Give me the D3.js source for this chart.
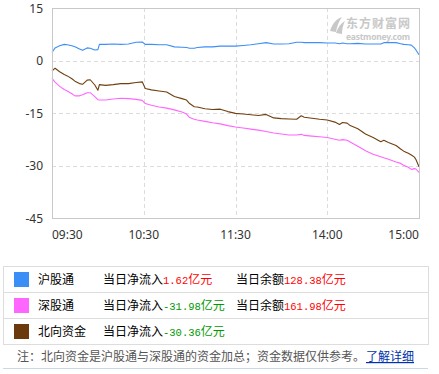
<!DOCTYPE html>
<html><head><meta charset="utf-8">
<script src="https://cdn.jsdelivr.net/npm/d3@7"></script>
<style>
html,body{margin:0;padding:0;background:#fff;}
svg{display:block;}
</style></head>
<body>
<svg id="c" width="439" height="374"></svg>
<script>
// trading minutes since 09:30 (lunch break removed)
const minutes = [0,2,5,8,10,13,15,18,20,23,25,28,30,31,35,40,45,50,55,59,61,65,70,75,80,85,88,90,93,95,100,105,110,115,120,125,130,135,140,145,150,155,160,163,165,170,175,180,185,188,190,193,195,200,205,210,215,217,220,225,228,230,233,235,237,238,240];
const hgt = [2.3,3.6,4.2,4.6,4.5,4.2,3.9,3.3,2.9,3.6,3.5,3.0,3.1,4.6,4.6,4.7,4.6,4.7,5.2,5.3,4.6,4.6,4.5,4.5,3.9,3.8,3.7,3.5,3.5,3.7,3.9,3.9,4.1,4.1,4.1,4.3,4.5,4.8,5.1,4.7,4.7,4.8,5.2,5.2,5.1,5.1,5.1,5.0,5.0,4.8,5.0,4.8,4.8,4.9,4.7,4.7,4.7,5.1,5.1,5.1,4.8,4.6,4.5,4.4,3.6,3.0,1.62];
const sgt = [-5.1,-6.2,-7.4,-8.3,-8.7,-9.5,-10.1,-10.1,-9.8,-9.2,-9.2,-10.3,-11.2,-11.3,-11.3,-11.0,-10.8,-10.9,-11.1,-11.4,-12.3,-12.8,-13.3,-13.6,-14.1,-14.7,-15.3,-16.3,-16.8,-17.0,-17.4,-17.8,-18.1,-18.6,-19.0,-19.3,-19.6,-19.9,-20.3,-20.7,-21.0,-21.3,-21.3,-21.1,-21.4,-21.6,-21.8,-22.0,-22.5,-22.8,-22.6,-22.8,-23.3,-24.5,-25.8,-26.8,-27.5,-27.8,-28.2,-29.0,-29.4,-29.9,-30.5,-31.1,-30.9,-31.0,-31.98];
const north = [-3.0,-2.2,-3.2,-4.0,-4.4,-5.2,-5.9,-6.6,-6.8,-5.6,-5.5,-7.0,-8.5,-6.9,-7.1,-6.9,-6.6,-6.6,-6.3,-6.1,-8.0,-8.4,-8.7,-9.0,-10.3,-10.9,-11.3,-12.3,-13.2,-13.3,-13.8,-14.0,-13.9,-14.6,-15.1,-15.3,-15.5,-15.7,-15.4,-16.4,-16.6,-16.7,-16.8,-15.8,-16.2,-16.5,-16.8,-17.0,-17.6,-18.3,-17.7,-17.9,-18.6,-19.5,-21.0,-22.0,-23.2,-22.8,-23.4,-24.3,-25.3,-25.9,-26.5,-27.0,-27.6,-28.3,-30.36];
const xTickMinutes = [0,60,120,180,240];
const xTickLabels = ["09:30","10:30","11:30","14:00","15:00"];
const yTicks = [15,0,-15,-30,-45];
const seriesNames = ["沪股通","深股通","北向资金"];
const seriesColors = ["#3a8ef6","#ff66ff","#6b3a0c"];
const lineColors = ["#3d8ff7","#ff66ff","#70400f"];
const netFlow = ["1.62亿元","-31.98亿元","-30.36亿元"];
const balance = ["128.38亿元","161.98亿元",null];
const note = "注：北向资金是沪股通与深股通的资金加总；资金数据仅供参考。";
const linkText = "了解详细";

const svg = d3.select("#c");
const L=52, R=419, T=8, B=218;
const x = d3.scaleLinear().domain([0,240]).range([L,R]);
const y = d3.scaleLinear().domain([-45,15]).range([B,T]);
const font = "'Noto Sans','Open Sans',sans-serif";
const cjk = "'Noto Sans CJK SC','Noto Sans',sans-serif";

// grid
const g = svg.append("g");
g.selectAll("line.hg").data([0,-15,-30]).enter().append("line")
  .attr("x1",L).attr("x2",R).attr("y1",d=>Math.round(y(d))+0.5).attr("y2",d=>Math.round(y(d))+0.5)
  .attr("stroke","#dcdcdc").attr("stroke-dasharray","4,3");
g.selectAll("line.vg").data([60,120,180]).enter().append("line")
  .attr("y1",T).attr("y2",B).attr("x1",d=>Math.round(x(d))+0.5).attr("x2",d=>Math.round(x(d))+0.5)
  .attr("stroke","#dcdcdc").attr("stroke-dasharray","4,3");

// watermark
const wm = svg.append("g").attr("fill","#c8c8c8");
wm.append("path").attr("d","M330,31 C332,24 336,19 342,17 C339,21 337,26 336,32 Z M336,33 C338,27 341,23 345,21 C343,25 342,29 342,34 Z");
wm.append("text").attr("x",346).attr("y",28).attr("font-family",cjk).attr("font-size",12).attr("font-weight","bold").attr("textLength",64).text("东方财富网");
wm.append("text").attr("x",346).attr("y",39.5).attr("font-family",font).attr("font-size",8.5).attr("font-weight","bold").attr("textLength",64).text("eastmoney.com");

// lines
const series=[hgt,sgt,north];
const line = d3.line().x((d,i)=>x(minutes[i])).y(d=>y(d));
[2,1,0].forEach(k=>{
  svg.append("path").datum(series[k]).attr("d",line).attr("fill","none")
    .attr("stroke",lineColors[k]).attr("stroke-width",1.1).attr("stroke-linejoin","round");
});

// frame
svg.append("rect").attr("x",L+0.5).attr("y",T+0.5).attr("width",R-L).attr("height",B-T)
  .attr("fill","none").attr("stroke","#c8c8c8");

// y axis labels
svg.selectAll("text.yt").data(yTicks).enter().append("text")
  .attr("x",43).attr("y",d=>y(d)+4.5).attr("text-anchor","end")
  .attr("font-family",font).attr("font-size",12).attr("fill","#333").text(d=>d);
// x axis labels
svg.selectAll("text.xt").data(xTickMinutes).enter().append("text")
  .attr("x",d=>x(d)).attr("y",239)
  .attr("text-anchor",(d,i)=>i===0?"start":(i===xTickMinutes.length-1?"end":"middle"))
  .attr("font-family",font).attr("font-size",12).attr("fill","#333").text((d,i)=>xTickLabels[i]);

// legend table
const tx0=3.5, tx1=428.5, ty0=266.5, rowH=26;
svg.append("rect").attr("x",tx0).attr("y",ty0).attr("width",tx1-tx0).attr("height",rowH*3)
  .attr("fill","none").attr("stroke","#dddddd");
[1,2].forEach(i=>svg.append("line").attr("x1",tx0).attr("x2",tx1).attr("y1",ty0+rowH*i).attr("y2",ty0+rowH*i).attr("stroke","#dddddd"));
seriesNames.forEach((n,i)=>{
  const cy = ty0 + rowH*i + 13;
  svg.append("rect").attr("x",14).attr("y",cy-7.5).attr("width",15).attr("height",15).attr("fill",seriesColors[i]);
  svg.append("text").attr("x",38).attr("y",cy+4.5).attr("font-family",cjk).attr("font-size",12).attr("fill","#000").text(n);
  const t1 = svg.append("text").attr("x",103).attr("y",cy+4.5).attr("font-family",cjk).attr("font-size",12).attr("fill","#000");
  t1.append("tspan").text("当日净流入");
  const num = netFlow[i].replace("亿元","");
  t1.append("tspan").attr("font-family","'Liberation Mono',monospace").attr("font-size",10.5)
    .attr("fill",num.startsWith("-")?"#009900":"#ff0000").text(num);
  t1.append("tspan").attr("fill",num.startsWith("-")?"#009900":"#ff0000").text("亿元");
  if(balance[i]){
    const t2 = svg.append("text").attr("x",236).attr("y",cy+4.5).attr("font-family",cjk).attr("font-size",12).attr("fill","#000");
    t2.append("tspan").text("当日余额");
    t2.append("tspan").attr("font-family","'Liberation Mono',monospace").attr("font-size",10.5).attr("fill","#ff0000").text(balance[i].replace("亿元",""));
    t2.append("tspan").attr("fill","#ff0000").text("亿元");
  }
});

// note
svg.append("text").attr("x",17).attr("y",361).attr("font-family",cjk).attr("font-size",12).attr("fill","#555").text(note);
svg.append("text").attr("x",366).attr("y",361).attr("font-family",cjk).attr("font-size",12).attr("fill","#0033aa").attr("text-decoration","underline").text(linkText);
svg.append("line").attr("x1",3).attr("x2",428).attr("y1",368.5).attr("y2",368.5).attr("stroke","#c9d8e6");
</script>
</body></html>
